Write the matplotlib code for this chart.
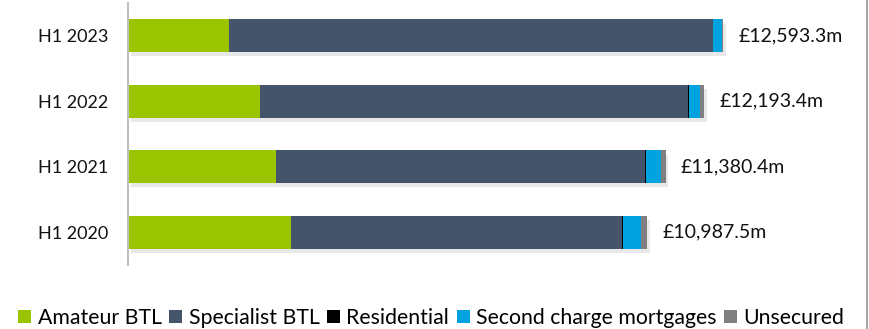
import matplotlib
matplotlib.use("Agg")
import matplotlib.pyplot as plt
import matplotlib.patheffects as pe
from matplotlib.patches import Patch
from matplotlib.lines import Line2D
import numpy as np

plt.rcParams["font.family"] = ["Lato", "DejaVu Sans"]

# data (£m), bottom row first
periods = ["H1 2020", "H1 2021", "H1 2022", "H1 2023"]
amateur_btl = [3457, 3140, 2795, 2138]
specialist_btl = [6992, 7795, 9070, 10236]
residential = [36, 21, 21, 21]
second_charge = [375, 318, 233, 190]
unsecured = [127, 106, 74, 8]
totals = [10987.5, 11380.4, 12193.4, 12593.3]

series_names = ["Amateur BTL", "Specialist BTL", "Residential",
                "Second charge mortgages", "Unsecured"]
series_vals = [amateur_btl, specialist_btl, residential, second_charge, unsecured]
colors = ["#9BC400", "#44546A", "#000000", "#00A3E0", "#808080"]

W, H = 869, 329
fig = plt.figure(figsize=(W / 100, H / 100), dpi=100)
ax = fig.add_axes([128 / W, (H - 265) / H, 738 / W, 262 / H])

y = np.arange(len(periods))
left = np.zeros(len(periods))
shadow = [pe.SimplePatchShadow(offset=(2, -3), alpha=0.18, shadow_rgbFace="#808080"),
          pe.Normal()]
for vals, col in zip(series_vals, colors):
    ax.barh(y, vals, left=left, height=0.5, color=col, linewidth=0,
            path_effects=shadow)
    left += np.array(vals)

for yi, tot in zip(y, totals):
    ax.annotate(f"£{tot:,.1f}m", xy=(tot, yi), xytext=(11, 0),
                textcoords="offset points", va="center", ha="left",
                fontsize=14, color="#111111")

ax.set_xlim(0, 738 * 21.17)
ax.set_ylim(-0.5, 3.5)
ax.set_yticks(y)
ax.set_yticklabels(periods, fontsize=13, color="#111111")
ax.tick_params(axis="y", length=0, pad=14)
ax.set_xticks([])
for s in ["top", "right", "bottom"]:
    ax.spines[s].set_visible(False)
ax.spines["left"].set_color("#BFBFBF")
ax.spines["left"].set_linewidth(1.5)

# chart frame edge on the right
fig.add_artist(Line2D([866.5 / W, 866.5 / W], [0, 1], color="#A6A6A6",
                      linewidth=1.5, transform=fig.transFigure))

handles = [Patch(facecolor=c, edgecolor="none") for c in colors]
fig.legend(handles, series_names, loc="center left",
           bbox_to_anchor=(18 / W, (H - 318) / H), ncol=5, frameon=False,
           fontsize=15.3, handlelength=0.62, handleheight=0.62,
           handletextpad=0.3, columnspacing=0.35, borderpad=0,
           borderaxespad=0)

fig.savefig("out.png", dpi=100)
